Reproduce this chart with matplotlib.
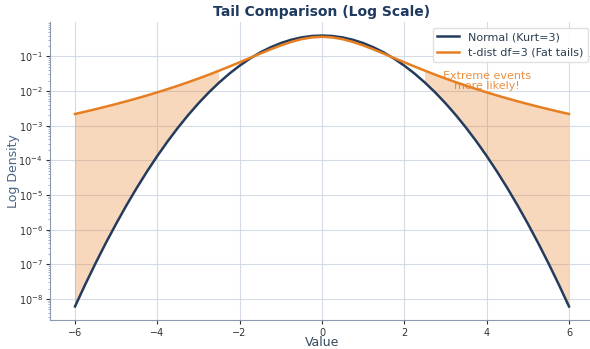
import numpy as np
import matplotlib
matplotlib.use("Agg")
import matplotlib.pyplot as plt

# half curves, x >= 0 (both curves are symmetric)
x_half = [0.0, 0.25, 0.5, 0.75, 1.0, 1.25, 1.5, 1.75, 2.0, 2.25, 2.5, 2.75, 3.0,
          3.25, 3.5, 3.75, 4.0, 4.25, 4.5, 4.75, 5.0, 5.25, 5.5, 5.75, 6.0]
normal_half = [0.398942, 0.386668, 0.352065, 0.301137, 0.241971, 0.182649,
               0.129518, 0.086277, 0.053991, 0.031740, 0.017528, 0.0090936,
               0.0044318, 0.0020290, 8.7268e-4, 3.5253e-4, 1.3383e-4,
               4.7718e-5, 1.5984e-5, 5.0310e-6, 1.4867e-6, 4.1303e-7,
               1.0771e-7, 2.6405e-8, 6.0759e-9]
tdist_half = [0.367553, 0.352704, 0.313183, 0.260646, 0.206748, 0.158913,
              0.120017, 0.090004, 0.067510, 0.050889, 0.038662, 0.029650,
              0.022972, 0.017984, 0.014224, 0.011363, 0.0091634, 0.0074567,
              0.0061195, 0.0050624, 0.0042194, 0.0035415, 0.0029921,
              0.0025436, 0.0021749]
tail_cut = 2.5

x = np.concatenate([-np.array(x_half[:0:-1]), x_half])
y_norm = np.concatenate([normal_half[:0:-1], normal_half])
y_t = np.concatenate([tdist_half[:0:-1], tdist_half])

navy = "#243b5e"
orange = "#e67e22"

fig = plt.figure(figsize=(5.9, 3.49), dpi=100)
ax = fig.add_axes([50.3 / 590, 29 / 349, 543.4 / 590, 298 / 349])

ax.plot(x, y_norm, color=navy, lw=1.8, label="Normal (Kurt=3)", zorder=3)
ax.plot(x, y_t, color=orange, lw=1.8, label="t-dist df=3 (Fat tails)", zorder=3)
ax.fill_between(x, y_norm, y_t, where=np.abs(x) >= tail_cut,
                color=orange, alpha=0.3, lw=0)
ax.set_yscale("log")

ax.text(4, 0.02, "Extreme events\nmore likely!", color=orange, alpha=0.85,
        fontsize=8, ha="center", va="center", linespacing=1.0)

ax.set_title("Tail Comparison (Log Scale)", fontsize=10, fontweight="bold",
             color="#1f3a5f", pad=4)
ax.set_xlabel("Value", fontsize=9, color="#34495e", va="center")
ax.set_ylabel("Log Density", fontsize=9, color="#4a6385", va="center")
ax.xaxis.set_label_coords(0.5, -0.077)
ax.yaxis.set_label_coords(-0.067, 0.5)

ax.grid(True, color="#d5dbe5", lw=0.8)
ax.set_axisbelow(True)
for s in ["top", "right"]:
    ax.spines[s].set_visible(False)
for s in ["left", "bottom"]:
    ax.spines[s].set_color("#8a9bb0")
ax.tick_params(labelsize=7, colors="#333333", length=3, pad=2.5)
ax.tick_params(which="minor", length=1.5, colors="#8a9bb0")

leg = ax.legend(loc="upper right", fontsize=8, frameon=True, framealpha=0.9,
                edgecolor="#dddddd", borderpad=0.4, handlelength=2.0)
for t in leg.get_texts():
    t.set_color("#2c3e50")

fig.savefig("out.png", dpi=100)
